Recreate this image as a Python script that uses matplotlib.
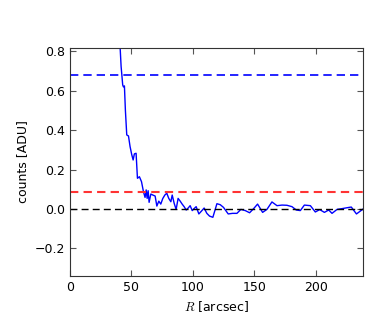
import matplotlib
matplotlib.use('Agg')
import matplotlib.pyplot as plt

# radial profile
radius = [39.5, 40.8, 41.6, 42.9, 43.5, 44.3, 45.1, 46.2, 47.6, 48.9, 50.3, 51.4, 52.4, 53.8,
          54.9, 56.5, 58.2, 59.8, 61.1, 62.0, 62.8, 63.6, 64.4, 65.8, 67.4, 69.3, 70.7, 72.3,
          73.9, 75.5, 77.2, 78.8, 80.4, 82.1, 83.2, 84.8, 86.4, 88.0, 89.7, 91.3, 92.9, 94.6,
          96.2, 97.8, 99.5, 101.0, 102.7, 104.9, 107.1, 109.2, 111.4, 113.6, 116.3, 119.6,
          122.3, 125.0, 128.8, 132.3, 135.9, 139.1, 142.7, 146.2, 149.5, 152.7, 156.8, 160.3,
          164.4, 168.5, 172.6, 176.6, 180.7, 184.2, 187.5, 190.8, 195.7, 199.7, 203.3, 207.1,
          210.6, 213.3, 217.4, 221.5, 226.9, 229.0, 233.2, 238.6]
counts = [0.95, 0.82, 0.724, 0.63, 0.62, 0.625, 0.50, 0.376, 0.371, 0.317, 0.275, 0.249, 0.28,
          0.283, 0.156, 0.164, 0.139, 0.088, 0.059, 0.097, 0.054, 0.093, 0.034, 0.076, 0.071,
          0.066, 0.015, 0.04, 0.025, 0.053, 0.071, 0.08, 0.054, 0.037, 0.071, 0.029, -0.002,
          0.054, 0.04, 0.025, 0.012, -0.005, 0.005, 0.017, -0.008, 0.002, 0.012, -0.025, -0.01,
          0.005, -0.022, -0.036, -0.042, 0.027, 0.022, 0.008, -0.025, -0.022, -0.022, -0.002,
          -0.008, -0.019, 0.002, 0.025, -0.017, -0.002, 0.036, 0.017, 0.02, 0.019, 0.012,
          -0.005, -0.008, 0.02, 0.017, -0.015, -0.003, -0.017, -0.005, -0.022, -0.002, 0.002,
          0.008, 0.01, -0.025, 0.0]

sky_level = 0.0
noise_level = 0.088
cut_level = 0.68

plt.rcParams['mathtext.fontset'] = 'cm'
plt.rcParams['font.size'] = 9

fig = plt.figure(figsize=(3.9, 3.25), dpi=100)
ax = fig.add_axes([0.1795, 0.1508, 0.7515, 0.7012])

ax.plot(radius, counts, color='#0000ff', lw=1.0)
ax.axhline(cut_level, color='#0000ff', ls='--', lw=1.2, dashes=(5, 3))
ax.axhline(noise_level, color='#ff3333', ls='--', lw=1.5, dashes=(4, 2.5))
ax.axhline(sky_level, color='black', ls='--', lw=1.0, dashes=(5, 3))

ax.set_xlim(0, 238.6)
ax.set_ylim(-0.34, 0.817)
ax.set_xticks([0, 50, 100, 150, 200])
ax.set_yticks([-0.2, 0.0, 0.2, 0.4, 0.6, 0.8])
ax.tick_params(direction='in', top=True, right=True, length=4, color='#555555')
for s in ax.spines.values():
    s.set_color('#333333')
ax.set_xlabel('$R$ [arcsec]')
ax.set_ylabel('counts [ADU]')

fig.savefig('out.png', dpi=100)
